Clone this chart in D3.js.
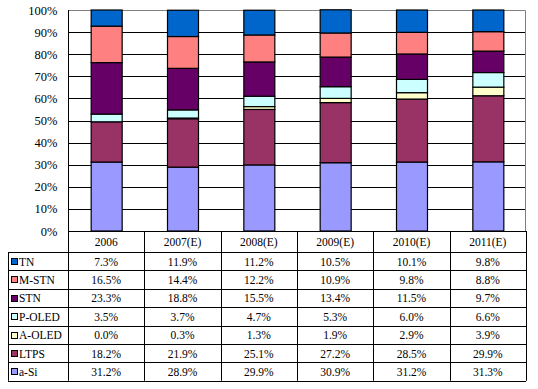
<!DOCTYPE html>
<html><head><meta charset="utf-8">
<script src="https://cdn.jsdelivr.net/npm/d3@7"></script>
<style>body{margin:0;background:#fff}svg{display:block}</style>
</head><body>
<svg id="c" width="538" height="389"></svg>
<script>
const categories = ["2006","2007(E)","2008(E)","2009(E)","2010(E)","2011(E)"];
const seriesNames = ["TN","M-STN","STN","P-OLED","A-OLED","LTPS","a-Si"];
const TN     = [7.3, 11.9, 11.2, 10.5, 10.1, 9.8];
const M_STN  = [16.5, 14.4, 12.2, 10.9, 9.8, 8.8];
const STN    = [23.3, 18.8, 15.5, 13.4, 11.5, 9.7];
const P_OLED = [3.5, 3.7, 4.7, 5.3, 6.0, 6.6];
const A_OLED = [0.0, 0.3, 1.3, 1.9, 2.9, 3.9];
const LTPS   = [18.2, 21.9, 25.1, 27.2, 28.5, 29.9];
const a_Si   = [31.2, 28.9, 29.9, 30.9, 31.2, 31.3];
const yTicks = [0,0.1,0.2,0.3,0.4,0.5,0.6,0.7,0.8,0.9,1.0];
const colors = ["#0066CC","#FF8080","#660066","#CCFFFF","#FFFFCC","#993366","#9999FF"];

const values = [TN, M_STN, STN, P_OLED, A_OLED, LTPS, a_Si];
const rows = categories.map((c,i)=>{const o={cat:c}; seriesNames.forEach((s,j)=>o[s]=values[j][i]); return o;});

const svg = d3.select("#c");
const L=68, R=526, T=10, B=231, tabL=8, rowH=18.4, tabTop=252;
const x = d3.scaleBand().domain(categories).range([L,R]).paddingInner(0.594).paddingOuter(0.297);
const y = d3.scaleLinear().domain([0,1]).range([B,T]);
const colX = d3.scaleBand().domain(categories).range([L,R]);
const font = "'Liberation Serif','DejaVu Serif',serif";

// gridlines
svg.append("g").selectAll("line").data(yTicks.filter(t=>t>0&&t<1)).join("line")
  .attr("x1",L).attr("x2",R).attr("y1",d=>Math.round(y(d))+0.5).attr("y2",d=>Math.round(y(d))+0.5)
  .attr("stroke","#000").attr("stroke-width",1);
// plot frame gray top/right
svg.append("path").attr("d",`M${L},${T+0.5}H${R-0.5}V${B}`).attr("fill","none").attr("stroke","#808080");

// stacked bars
const stackOrder = ["a-Si","LTPS","A-OLED","P-OLED","STN","M-STN","TN"];
const stack = d3.stack().keys(stackOrder).value((d,k)=>d[k]/100);
const layers = stack(rows);
svg.append("g").selectAll("g").data(layers).join("g")
  .attr("fill",d=>colors[seriesNames.indexOf(d.key)])
  .selectAll("rect").data(d=>d).join("rect")
  .attr("x",d=>x(d.data.cat)+0.5).attr("width",x.bandwidth())
  .attr("y",d=>y(d[1])).attr("height",d=>y(d[0])-y(d[1]))
  .attr("stroke","#000").attr("stroke-width",1.2);

// y axis
const yAxis = d3.axisLeft(y).tickValues(yTicks).tickFormat(d3.format(".0%")).tickSize(0).tickPadding(11);
const ga = svg.append("g").attr("transform",`translate(${L+0.5},0)`).call(yAxis);
ga.select(".domain").remove();
ga.selectAll("text").attr("font-family",font).attr("font-size",12.5).attr("fill","#000");

// table
const tg = svg.append("g");
const tabBottom = tabTop + rowH*seriesNames.length;
// horizontal lines
tg.append("line").attr("x1",L).attr("x2",R).attr("y1",B+0.5).attr("y2",B+0.5).attr("stroke","#000");
d3.range(seriesNames.length+1).forEach(i=>{
  const yy = Math.round(tabTop + i*rowH)+0.5;
  tg.append("line").attr("x1",tabL).attr("x2",R).attr("y1",yy).attr("y2",yy).attr("stroke","#000");
});
// vertical lines
tg.append("line").attr("x1",tabL+0.5).attr("x2",tabL+0.5).attr("y1",tabTop).attr("y2",tabBottom).attr("stroke","#000");
const vx = categories.map(c=>colX(c)).concat([R]);
tg.selectAll(".v").data(vx).join("line")
  .attr("x1",d=>Math.round(d)+0.5).attr("x2",d=>Math.round(d)+0.5)
  .attr("y1",d=>d===L?T:B).attr("y2",tabBottom).attr("stroke",(d,i)=>i===vx.length-1?"#000":"#000");
// right gray frame over axis area already; header labels
tg.selectAll(".h").data(categories).join("text")
  .attr("x",d=>colX(d)+colX.bandwidth()/2).attr("y",B+15)
  .attr("text-anchor","middle").attr("font-family",font).attr("font-size",11.5).text(d=>d);
// rows
seriesNames.forEach((s,j)=>{
  const cy = tabTop + j*rowH;
  tg.append("rect").attr("x",11.5).attr("y",Math.round(cy+6)+0.5).attr("width",6).attr("height",6)
    .attr("fill",colors[j]).attr("stroke","#000").attr("stroke-width",1);
  tg.append("text").attr("x",19).attr("y",cy+13.5).attr("font-family",font).attr("font-size",11.5).text(s);
  tg.selectAll(null).data(categories).join("text")
    .attr("x",d=>colX(d)+colX.bandwidth()/2).attr("y",cy+13.5)
    .attr("text-anchor","middle").attr("font-family",font).attr("font-size",11.5)
    .text((d,i)=>values[j][i].toFixed(1)+"%");
});
</script>
</body></html>
